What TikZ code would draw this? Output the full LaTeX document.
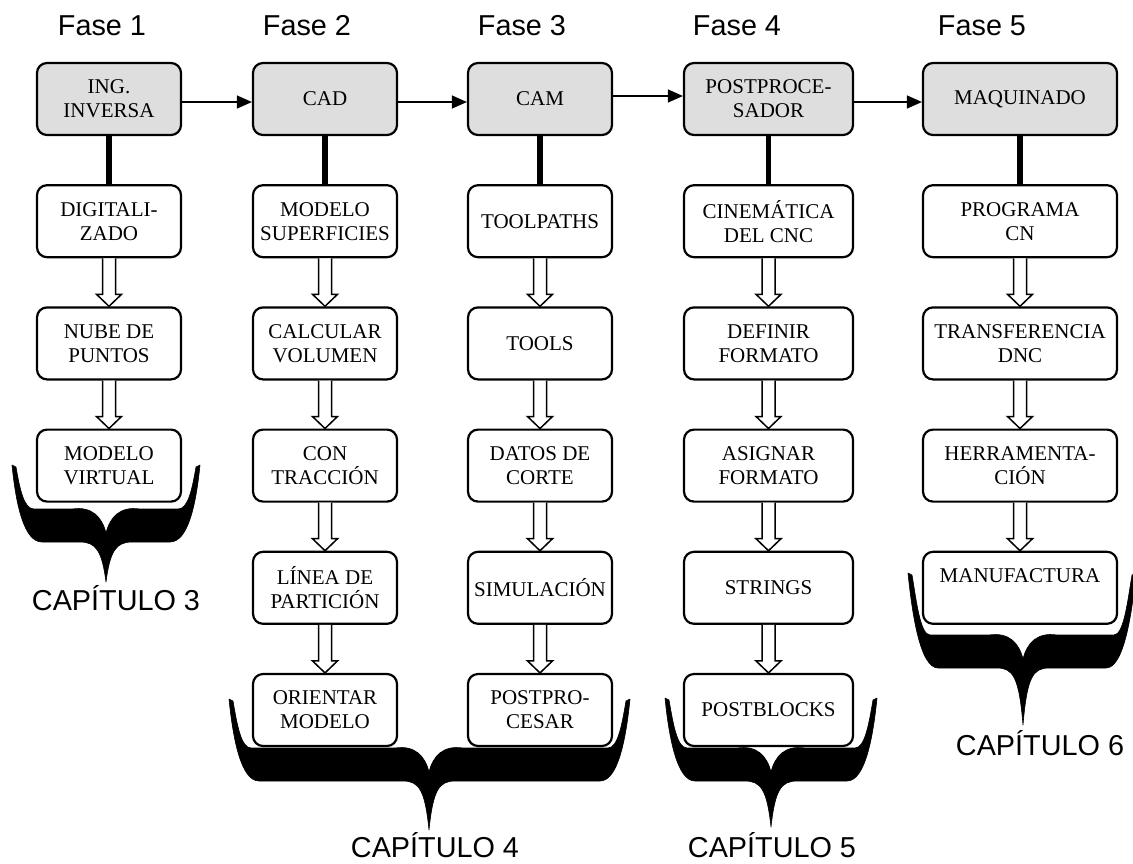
\documentclass[tikz,border=0pt]{standalone}
\usepackage{fontspec}
\setmainfont{Liberation Serif}
\newfontfamily\labelfont{Liberation Sans}
\usepackage{tikz}
\usetikzlibrary{arrows.meta,calc,positioning}
\definecolor{ink}{HTML}{000000}
\definecolor{phasefill}{HTML}{DEDEDE}
\tikzset{
  every node/.style={font=\fontsize{10.5}{12}\selectfont, text=ink},
  box/.style={rectangle, rounded corners=5pt, draw=ink, line width=1.1pt,
    minimum width=72pt, minimum height=36pt, align=center, inner sep=0pt},
  phase/.style={box, fill=phasefill},
  task/.style={box, fill=white},
  flow/.style={-{Triangle[length=7.5pt,width=6.5pt]}, draw=ink, line width=0.6pt},
  stem/.style={draw=ink, line width=2.6pt},
  hollow/.style={draw=ink, fill=white, line width=0.75pt, line join=miter},
  fase/.style={font=\labelfont\fontsize{14.4}{16}\selectfont, anchor=base},
  chapter/.style={fase},
  bracefill/.style={fill=ink, draw=ink, line width=0.3pt, line join=round}
}
% hollow block arrow between two stacked boxes
\newcommand{\hollowarrow}[2]{%
  \draw[hollow] ($(#1.south)+(-6.5,0)$) -- ($(#2.north)+(-6.5,-12)$)
    -- ($(#2.north)+(-12.5,-12)$) -- (#2.north)
    -- ($(#2.north)+(12.5,-12)$) -- ($(#2.north)+(6.5,-12)$)
    -- ($(#1.south)+(6.5,0)$);}
% filled chapter brace: left, right, tip y, centre x, band top y, point y
\newcommand{\capbrace}[6]{%
  \fill[bracefill] (#1,#3)
    .. controls ({#1+4},{#3+40}) and ({#1+12},{#5+33}) .. ({#1+30},{#5+33})
    -- ({#4-26},{#5+33})
    .. controls ({#4-10},{#5+33}) and ({#4-4},{#5+42}) .. (#4,#6)
    .. controls ({#4+4},{#5+42}) and ({#4+10},{#5+33}) .. ({#4+26},{#5+33})
    -- ({#2-30},{#5+33})
    .. controls ({#2-12},{#5+33}) and ({#2-4},{#3+40}) .. (#2,#3)
    -- ({#2-4},{#3+2})
    .. controls ({#2-8},{#3+25}) and ({#2-12},#5) .. ({#2-22},#5)
    -- ({#4+34},#5)
    .. controls ({#4+14},{#5-3}) and ({#4+4},{#5+8}) .. (#4,{#5+24})
    .. controls ({#4-4},{#5+8}) and ({#4-14},{#5-3}) .. ({#4-34},#5)
    -- ({#1+22},#5)
    .. controls ({#1+12},#5) and ({#1+8},{#3+25}) .. ({#1+4},{#3+2})
    -- cycle;}

\begin{document}
\begin{tikzpicture}[x=0.5pt,y=-0.5pt]
  \useasboundingbox (0,0) rectangle (1133,863);

  % Chapter braces sit behind the boxes.
  \capbrace{12}{200}{465}{106}{509}{582}
  \capbrace{229}{630}{699}{429}{748}{830}
  \capbrace{665}{877}{698}{771}{748}{827}
  \capbrace{908}{1136}{573}{1023}{635}{725}

  % Phase headings.
  \node[fase] (fase1) at (102,35) {Fase 1};
  \node[fase] (fase2) at (307,35) {Fase 2};
  \node[fase] (fase3) at (522,35) {Fase 3};
  \node[fase] (fase4) at (737,35) {Fase 4};
  \node[fase] (fase5) at (982,35) {Fase 5};

  % Top row of phases.
  \node[phase] (ing) at (109,99) {ING.\\INVERSA};
  \node[phase] (cad) at (325,99) {CAD};
  \node[phase] (cam) at (540,99) {CAM};
  \node[phase, minimum width=84.5pt] (post) at (768.5,99) {POSTPROCE-\\SADOR};
  \node[phase, minimum width=97pt] (maq) at (1020,99) {MAQUINADO};

  \draw[flow] ([yshift=-1.5pt]ing.east) -- ([yshift=-1.5pt]cad.west);
  \draw[flow] ([yshift=-1.5pt]cad.east) -- ([yshift=-1.5pt]cam.west);
  \draw[flow] ([yshift=1.5pt]cam.east) -- ([yshift=1.5pt]post.west);
  \draw[flow] ([yshift=-1.5pt]post.east) -- ([yshift=-1.5pt]maq.west);

  % Fase 1
  \node[task, below=24pt of ing] (dig) {DIGITALI-\\ZADO};
  \node[task, below=24pt of dig] (nube) {NUBE DE\\PUNTOS};
  \node[task, below=24pt of nube] (virt) {MODELO\\VIRTUAL};
  \draw[stem] (ing) -- (dig);
  \hollowarrow{dig}{nube}
  \hollowarrow{nube}{virt}

  % Fase 2
  \node[task, below=24pt of cad] (sup) {MODELO\\SUPERFICIES};
  \node[task, below=24pt of sup] (vol) {CALCULAR\\VOLUMEN};
  \node[task, below=24pt of vol] (trac) {CON\\TRACCIÓN};
  \node[task, below=24pt of trac] (part) {LÍNEA DE\\PARTICIÓN};
  \node[task, below=24pt of part] (orient) {ORIENTAR\\MODELO};
  \draw[stem] (cad) -- (sup);
  \hollowarrow{sup}{vol}
  \hollowarrow{vol}{trac}
  \hollowarrow{trac}{part}
  \hollowarrow{part}{orient}

  % Fase 3
  \node[task, below=24pt of cam] (tpath) {TOOLPATHS};
  \node[task, below=24pt of tpath] (tools) {TOOLS};
  \node[task, below=24pt of tools] (datos) {DATOS DE\\CORTE};
  \node[task, below=24pt of datos] (sim) {SIMULACIÓN};
  \node[task, below=24pt of sim] (pproc) {POSTPRO-\\CESAR};
  \draw[stem] (cam) -- (tpath);
  \hollowarrow{tpath}{tools}
  \hollowarrow{tools}{datos}
  \hollowarrow{datos}{sim}
  \hollowarrow{sim}{pproc}

  % Fase 4
  \node[task, minimum width=84.5pt, below=24pt of post] (cine) {CINEMÁTICA\\DEL CNC};
  \node[task, minimum width=84.5pt, below=24pt of cine] (defin) {DEFINIR\\FORMATO};
  \node[task, minimum width=84.5pt, below=24pt of defin] (asig) {ASIGNAR\\FORMATO};
  \node[task, minimum width=84.5pt, below=24pt of asig] (strg) {STRINGS};
  \node[task, minimum width=84.5pt, below=24pt of strg] (pblk) {POSTBLOCKS};
  \draw[stem] (post) -- (cine);
  \hollowarrow{cine}{defin}
  \hollowarrow{defin}{asig}
  \hollowarrow{asig}{strg}
  \hollowarrow{strg}{pblk}

  % Fase 5
  \node[task, minimum width=97pt, below=24pt of maq] (prog) {PROGRAMA\\CN};
  \node[task, minimum width=97pt, below=24pt of prog] (dnc) {TRANSFERENCIA\\DNC};
  \node[task, minimum width=97pt, below=24pt of dnc] (herr) {HERRAMENTA-\\CIÓN};
  \node[task, minimum width=97pt, below=24pt of herr] (manuf) {MANUFACTURA\\\mbox{}};
  \draw[stem] (maq) -- (prog);
  \hollowarrow{prog}{dnc}
  \hollowarrow{dnc}{herr}
  \hollowarrow{herr}{manuf}

  % Chapter labels under the braces.
  \node[chapter] (cap3) at (116,610) {CAPÍTULO 3};
  \node[chapter] (cap4) at (435,857) {CAPÍTULO 4};
  \node[chapter] (cap5) at (772,857) {CAPÍTULO 5};
  \node[chapter] (cap6) at (1040,755) {CAPÍTULO 6};
\end{tikzpicture}
\end{document}
